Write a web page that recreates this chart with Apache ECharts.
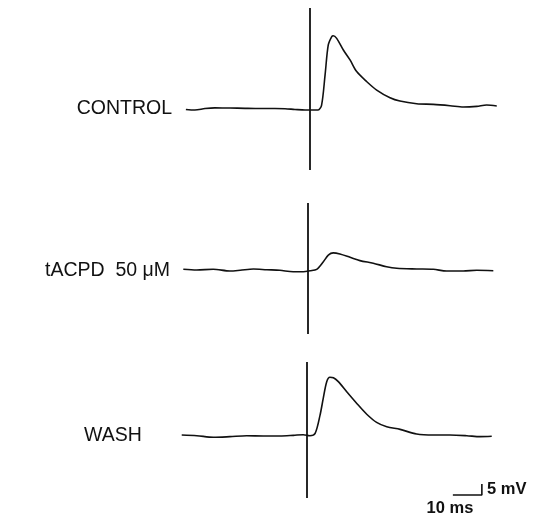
<!DOCTYPE html>
<html>
<head>
<meta charset="utf-8">
<script src="https://cdn.jsdelivr.net/npm/echarts@6/dist/echarts.min.js"></script>
<style>
  html, body { margin: 0; padding: 0; background: #fff; }
  #chart { width: 534px; height: 516px; }
</style>
</head>
<body>
<div id="chart"></div>
<script>
// trace labels
const traceLabels = ['CONTROL', 'tACPD  50 \u03bcM', 'WASH']

// time (ms, 0 = stimulus) and potential (mV, relative to baseline)
const controlT = [-42.8, -39.7, -36.2, -32.8, -27.6, -22.4, -17.2, -12.1, -8.6, -5.2, -1.7, 1.0, 2.8, 4.0, 5.2, 6.3, 7.5, 8.0, 9.2, 11.5, 13.8, 16.1, 19.6, 23.0, 27.6, 31.0, 36.8, 42.5, 48.3, 52.9, 57.5, 60.9, 64.4]
const controlMv = [-0.2, -0.45, 0.2, 0.5, 0.45, 0.3, 0.2, 0.2, 0.1, -0.2, -0.45, -0.45, -0.45, 1.8, 15.5, 29.1, 32.9, 33.3, 32.1, 26.8, 22.3, 17.0, 12.4, 8.6, 5.1, 3.6, 2.4, 2.1, 1.5, 0.9, 1.2, 1.8, 1.4]

const tacpdT = [-43.0, -38.4, -32.7, -26.9, -23.4, -18.8, -14.2, -9.7, -5.1, -1.6, 0.7, 3.0, 5.3, 7.0, 8.7, 11.0, 14.5, 17.9, 22.5, 27.1, 30.6, 37.5, 43.2, 47.8, 53.5, 58.2, 63.9]
const tacpdMv = [0.55, 0.23, 0.55, -0.23, 0.1, 0.68, 0.36, 0.1, -0.55, -0.55, -0.1, 0.55, 4.0, 7.0, 8.0, 7.5, 6.0, 4.5, 3.3, 1.7, 1.0, 0.7, 0.55, -0.23, -0.23, 0.1, -0.1]

const washT = [-43.2, -38.0, -32.3, -26.6, -20.8, -15.1, -9.3, -4.7, -1.3, 1.0, 2.8, 4.5, 5.6, 6.8, 7.9, 9.1, 10.8, 13.7, 17.1, 20.6, 24.0, 27.5, 32.1, 37.8, 43.6, 49.3, 55.1, 59.7, 63.7]
const washMv = [0.45, 0.14, -0.6, -0.3, 0.14, 0, 0, 0.3, 0.6, 0.14, 1.2, 9.5, 17.1, 24.7, 26.7, 26.5, 24.7, 20.1, 14.9, 9.9, 6.2, 4.2, 3.0, 0.9, 0.45, 0.45, 0.14, -0.3, -0.14]

// stimulus artifact extent (mV, top and bottom)
const stimControl = [45.9, -27.7]
const stimTacpd = [30.7, -28.9]
const stimWash = [33.6, -28.2]

// calibration bar
const scaleMs = 10
const scaleMv = 5

const PX_PER_MS = 2.9
const PX_PER_MV = 2.2
const X_MIN = -45
const X_MAX = 66
const Y_MIN = -30
const Y_MAX = 48

// page position of stimulus, baseline and label for each trace
const layout = [
  { stimX: 310, baseY: 109, labelX: 172, align: 'right' },
  { stimX: 308, baseY: 270.5, labelX: 170, align: 'right' },
  { stimX: 307, baseY: 436, labelX: 84, align: 'left' },
]

const traces = [
  { t: controlT, mv: controlMv, stim: stimControl },
  { t: tacpdT, mv: tacpdMv, stim: stimTacpd },
  { t: washT, mv: washMv, stim: stimWash },
]

const zip = (xs, ys) => xs.map((x, i) => [x, ys[i]])

const grids = layout.map((l) => ({
  left: l.stimX + X_MIN * PX_PER_MS,
  top: l.baseY - Y_MAX * PX_PER_MV,
  width: (X_MAX - X_MIN) * PX_PER_MS,
  height: (Y_MAX - Y_MIN) * PX_PER_MV,
}))

const xAxes = grids.map((g, i) => ({ type: 'value', gridIndex: i, min: X_MIN, max: X_MAX, show: false }))
const yAxes = grids.map((g, i) => ({ type: 'value', gridIndex: i, min: Y_MIN, max: Y_MAX, show: false }))

const series = []
traces.forEach((tr, i) => {
  series.push({
    type: 'line',
    xAxisIndex: i,
    yAxisIndex: i,
    data: zip(tr.t, tr.mv),
    symbol: 'none',
    smooth: 0.3,
    lineStyle: { color: '#111', width: 1.6 },
  })
  // stimulus artifact
  series.push({
    type: 'line',
    xAxisIndex: i,
    yAxisIndex: i,
    data: [[0, tr.stim[0]], [0, tr.stim[1]]],
    symbol: 'none',
    lineStyle: { color: '#111', width: 1.8 },
  })
})

// calibration bar, drawn in the WASH axes
const barX = 50.3
const barY = -26.8
series.push({
  type: 'line',
  xAxisIndex: 2,
  yAxisIndex: 2,
  data: [[barX, barY], [barX + scaleMs, barY], [barX + scaleMs, barY + scaleMv]],
  symbol: 'none',
  lineStyle: { color: '#111', width: 1.6 },
})

const labelFont = '19.5px "Liberation Sans", Arial, sans-serif'
const scaleFont = 'bold 16.5px "Liberation Sans", Arial, sans-serif'

const graphic = traceLabels.map((txt, i) => ({
  type: 'text',
  x: layout[i].labelX,
  y: layout[i].baseY,
  style: { text: txt, font: labelFont, fill: '#111', textAlign: layout[i].align, textVerticalAlign: 'middle' },
}))
graphic.push({
  type: 'text',
  x: 487,
  y: 489,
  style: { text: scaleMv + ' mV', font: scaleFont, fill: '#111', textAlign: 'left', textVerticalAlign: 'middle' },
})
graphic.push({
  type: 'text',
  x: 450,
  y: 508,
  style: { text: scaleMs + ' ms', font: scaleFont, fill: '#111', textAlign: 'center', textVerticalAlign: 'middle' },
})

const chart = echarts.init(document.getElementById('chart'))
chart.setOption({
  backgroundColor: '#fff',
  animation: false,
  grid: grids,
  xAxis: xAxes,
  yAxis: yAxes,
  series: series,
  graphic: graphic,
})
</script>
</body>
</html>
